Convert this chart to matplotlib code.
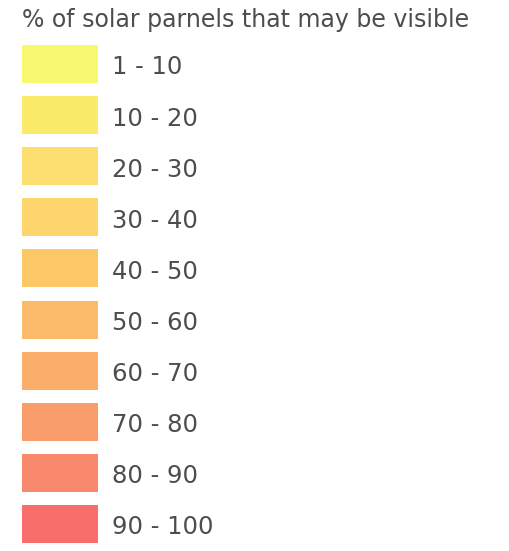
import matplotlib
matplotlib.use("Agg")
import matplotlib.pyplot as plt

# --- legend data ---
TITLE = "% of solar parnels that may be visible"
LABELS = ["1 - 10", "10 - 20", "20 - 30", "30 - 40", "40 - 50",
          "50 - 60", "60 - 70", "70 - 80", "80 - 90", "90 - 100"]
COLORS = ["#f8f871", "#fbeb6a", "#fcdf70", "#fcd56d", "#fcc868",
          "#fcbb6b", "#fbad6a", "#f99e6b", "#f8896d", "#f86e6b"]

W, H = 509, 551
fig = plt.figure(figsize=(W / 100, H / 100), dpi=100)
ax = fig.add_axes([0, 0, 1, 1])
ax.set_xlim(0, W)
ax.set_ylim(H, 0)
ax.axis("off")

TXT = "#4d4d4d"
FONT = "DejaVu Sans"

ax.text(22, 27.5, TITLE, color=TXT, fontsize=17, family=FONT, va="baseline")

ys = [64 + 51.1 * i for i in range(len(LABELS))]
ax.barh(ys, 76, height=38, left=22, color=COLORS)
for y, lab in zip(ys, LABELS):
    ax.text(112, y + 10.5, lab, color=TXT, fontsize=17.5, family=FONT, va="baseline")

fig.savefig("out.png", dpi=100)
